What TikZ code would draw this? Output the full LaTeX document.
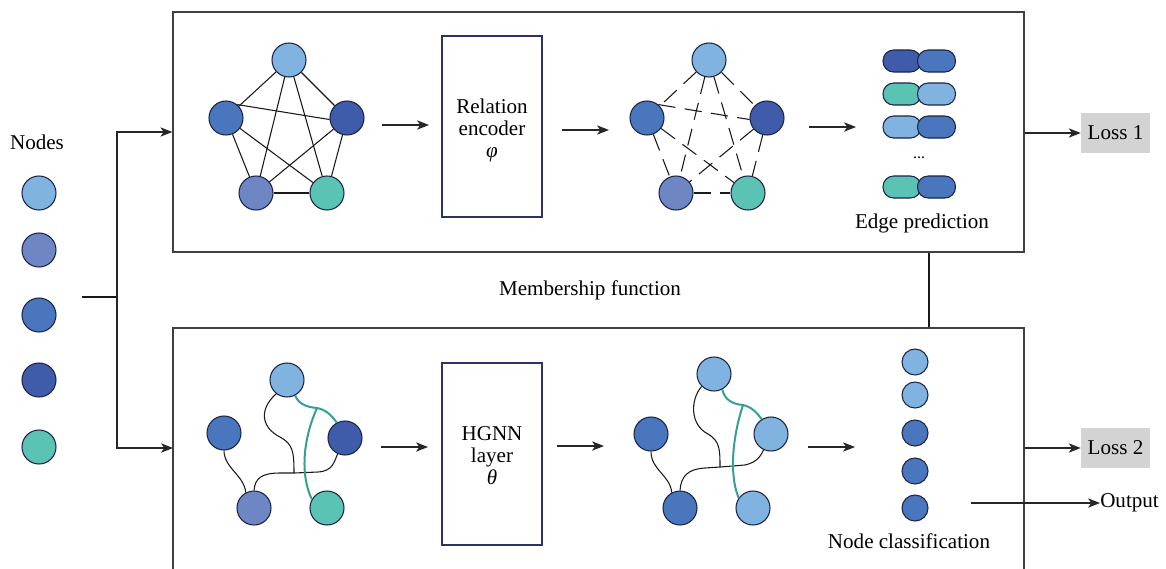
\documentclass[tikz,border=0pt]{standalone}
\usepackage{fontspec}
\setmainfont{Liberation Serif}
\usetikzlibrary{arrows.meta}
\definecolor{cLight}{HTML}{80B3E0}
\definecolor{cPeri}{HTML}{6E86C4}
\definecolor{cMid}{HTML}{4A76BD}
\definecolor{cDark}{HTML}{3F5BAA}
\definecolor{cTeal}{HTML}{5BC3B4}
\definecolor{cTealLine}{HTML}{35A08F}
\definecolor{cEdge}{HTML}{1C2447}
\definecolor{cFrame}{HTML}{404040}
\definecolor{cNavy}{HTML}{2E3262}
\definecolor{cGrey}{HTML}{D3D3D3}
\begin{document}
\begin{tikzpicture}[x=0.75pt,y=-0.75pt,
  font=\fontsize{15.8}{16.5}\selectfont,
  gnode/.style={circle, draw=cEdge, line width=0.8pt, minimum size=25.5pt, inner sep=0pt},
  snode/.style={gnode, minimum size=19.5pt},
  arr/.style={-{Stealth[length=9pt,width=7pt,inset=2.5pt]}, line width=0.8pt, draw=black!85},
  frame/.style={draw=cFrame, line width=0.9pt},
  proc/.style={draw=cNavy, line width=0.9pt, minimum width=75pt, minimum height=135.75pt, inner sep=0pt},
  pill/.style={draw=cEdge, line width=0.8pt, rounded corners=8pt, minimum width=28.5pt, minimum height=16.5pt, inner sep=0pt},
  loss/.style={fill=cGrey, minimum width=51.75pt, minimum height=30pt, inner sep=0pt},
  link/.style={line width=0.8pt, draw=black!90},
  dlink/.style={link, dash pattern=on 13pt off 7pt},
  hlink/.style={draw=cTealLine, line width=1.5pt},
  lbl/.style={inner sep=0pt},
  ptext/.style={inner sep=0pt, align=center}
]
\useasboundingbox (0,0) rectangle (1166,568);

% frames
\node[frame, minimum width=638.25pt, minimum height=180pt, inner sep=0pt] (topbox) at (598.5,132) {};
\node[frame, minimum width=638.25pt, minimum height=210pt, inner sep=0pt] (botbox) at (598.5,468) {};

% left nodes
\node[lbl] (nodeslbl) at (37,142) {Nodes};
\node[gnode, fill=cLight] (n1) at (39,193) {};
\node[gnode, fill=cPeri]  (n2) at (39,250) {};
\node[gnode, fill=cMid]   (n3) at (39,315) {};
\node[gnode, fill=cDark]  (n4) at (39,380) {};
\node[gnode, fill=cTeal]  (n5) at (39,447) {};

\coordinate (lstart) at (82,297);
\coordinate (split) at (117,297);
\coordinate (botin) at (173,448);
\draw[link] (lstart) -- (split);
\draw[arr] (split) |- (topbox.west);
\draw[arr] (split) |- (botin);

% ---------- top graph (complete) ----------
\node[gnode, fill=cLight] (a1) at (289,60) {};
\node[gnode, fill=cMid]   (a2) at (226,118) {};
\node[gnode, fill=cDark]  (a3) at (347,118) {};
\node[gnode, fill=cPeri]  (a4) at (256,193) {};
\node[gnode, fill=cTeal]  (a5) at (327,193) {};
\foreach \u/\v in {a1/a2,a1/a3,a1/a4,a1/a5,a2/a4,a2/a5,a3/a4,a3/a5,a4/a5}
  \draw[link] (\u) -- (\v);
\draw[link] (a2.50) -- (a3.185);

\coordinate (ar1s) at (382,125); \coordinate (ar1e) at (429,125);
\draw[arr] (ar1s) -- (ar1e);
\node[proc] (relenc) at (492,126.5) {};
\node[ptext] (relenctxt) at (492,130) {Relation\\encoder\\\textit{φ}};
\coordinate (ar2s) at (562,130); \coordinate (ar2e) at (609,130);
\draw[arr] (ar2s) -- (ar2e);

% dashed graph
\node[gnode, fill=cLight] (b1) at (709,60) {};
\node[gnode, fill=cMid]   (b2) at (647,118) {};
\node[gnode, fill=cDark]  (b3) at (767,118) {};
\node[gnode, fill=cPeri]  (b4) at (676,193) {};
\node[gnode, fill=cTeal]  (b5) at (748,193) {};
\foreach \u/\v in {b1/b2,b1/b3,b1/b4,b1/b5,b2/b4,b2/b5,b3/b4,b3/b5,b4/b5}
  \draw[dlink] (\u) -- (\v);
\draw[dlink] (b2.50) -- (b3.185);

\coordinate (ar3s) at (809,127); \coordinate (ar3e) at (856,127);
\draw[arr] (ar3s) -- (ar3e);

% pills
\node[pill, fill=cDark]  (p1l) at (902,61) {};
\node[pill, fill=cMid]   (p1r) at (936.5,61) {};
\node[pill, fill=cTeal]  (p2l) at (902,94) {};
\node[pill, fill=cLight] (p2r) at (936.5,94) {};
\node[pill, fill=cLight] (p3l) at (902,127) {};
\node[pill, fill=cMid]   (p3r) at (936.5,127) {};
\node[lbl, font=\fontsize{12}{12}\selectfont] (pdots) at (919,158) {...};
\node[pill, fill=cTeal]  (p4l) at (902,187) {};
\node[pill, fill=cMid]   (p4r) at (936.5,187) {};
\node[lbl] (edgelbl) at (922,223) {Edge prediction};

% loss 1
\node[loss] (loss1) at (1115.5,133) {Loss 1};
\draw[arr] (loss1.west -| topbox.east) -- (loss1.west);

% membership
\node[lbl] (memb) at (590,290) {Membership function};
\coordinate (mx) at (929,0);
\draw[link] (topbox.south -| mx) -- (botbox.north -| mx);

% ---------- bottom-left hypergraph ----------
\node[gnode, fill=cLight] (c1) at (287,380) {};
\node[gnode, fill=cMid]   (c2) at (224,433) {};
\node[gnode, fill=cDark]  (c3) at (345,438) {};
\node[gnode, fill=cPeri]  (c4) at (254,508) {};
\node[gnode, fill=cTeal]  (c5) at (327,508) {};
\coordinate (cj) at (294,473);
\coordinate (ct) at (317,408);
\draw[link] (c1.232) .. controls (258,410) and (262,428) .. (280,437) .. controls (293,444) and (294,452) .. (cj);
\draw[link] (c4.north) .. controls (255,478) and (262,473) .. (280,473) -- (cj) -- (318,472) .. controls (333,471) and (334,462) .. (c3.245);
\draw[link] (c2.south) .. controls (224,468) and (244,475) .. (c4.118);
\draw[hlink] (c1.-62) .. controls (298,403) and (305,407) .. (ct) .. controls (328,410) and (333,418) .. (c3.118);
\draw[hlink] (ct) .. controls (306,432) and (298,470) .. (c5.150);

\coordinate (ar4s) at (381,447); \coordinate (ar4e) at (428,447);
\draw[arr] (ar4s) -- (ar4e);
\node[proc, minimum height=136.5pt] (hgnn) at (492,454) {};
\node[ptext] (hgnntxt) at (492,456) {HGNN\\layer\\\textit{θ}};
\coordinate (ar5s) at (557,446); \coordinate (ar5e) at (604,446);
\draw[arr] (ar5s) -- (ar5e);

% ---------- bottom-right hypergraph ----------
\node[gnode, fill=cLight] (d1) at (714,374) {};
\node[gnode, fill=cMid]   (d2) at (651,434) {};
\node[gnode, fill=cLight] (d3) at (771,434) {};
\node[gnode, fill=cMid]   (d4) at (680,508) {};
\node[gnode, fill=cLight] (d5) at (753,508) {};
\coordinate (dj) at (720,467);
\coordinate (dt) at (743,405);
\draw[link] (d1.225) .. controls (690,400) and (690,425) .. (708,434) .. controls (720,441) and (720,450) .. (dj);
\draw[link] (d4.north) .. controls (681,476) and (688,469) .. (705,468) -- (dj) -- (745,465) .. controls (758,462) and (761,455) .. (d3.245);
\draw[link] (d2.south) .. controls (651,470) and (670,475) .. (d4.118);
\draw[hlink] (d1.-62) .. controls (725,400) and (732,404) .. (dt) .. controls (752,407) and (757,413) .. (d3.122);
\draw[hlink] (dt) .. controls (734,432) and (728,472) .. (d5.145);

\coordinate (ar6s) at (808,447); \coordinate (ar6e) at (855,447);
\draw[arr] (ar6s) -- (ar6e);

% classification
\node[snode, fill=cLight] (k1) at (915,362) {};
\node[snode, fill=cLight] (k2) at (915,395) {};
\node[snode, fill=cMid]   (k3) at (915,433) {};
\node[snode, fill=cMid]   (k4) at (915,471) {};
\node[snode, fill=cMid]   (k5) at (915,508) {};
\node[lbl] (classlbl) at (909,541) {Node classification};

% loss 2 and output
\node[loss] (loss2) at (1115.5,448) {Loss 2};
\draw[arr] (loss2.west -| botbox.east) -- (loss2.west);
\node[lbl, anchor=west] (outlbl) at (1100,503) {Output};
\coordinate (outs) at (971,503);
\draw[arr] (outs) -- (outlbl.west);
\end{tikzpicture}
\end{document}
